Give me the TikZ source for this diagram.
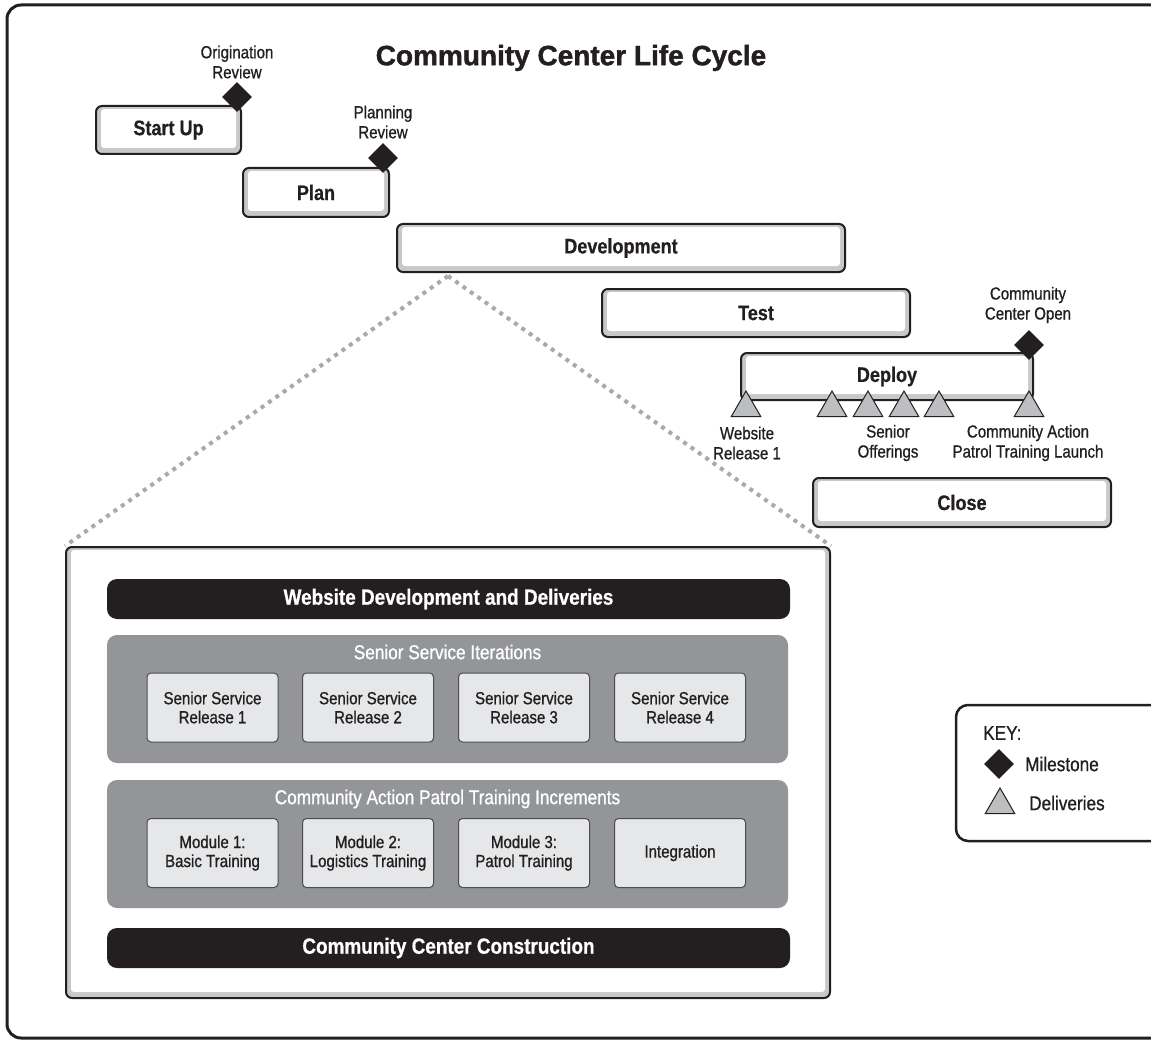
\documentclass[tikz,border=0pt]{standalone}
\usepackage{fontspec}
\setmainfont{Liberation Sans}[FakeStretch=0.86, UprightFeatures={FakeBold=0.9}, BoldFeatures={FakeBold=0.6}]
\newfontfamily\titlefont{Liberation Sans}[BoldFeatures={FakeBold=1.4}]
\usetikzlibrary{shapes,shapes.geometric,positioning}

\definecolor{ink}{HTML}{231F20}
\definecolor{rimgray}{HTML}{C7C8CA}
\definecolor{groupgray}{HTML}{939598}
\definecolor{cellgray}{HTML}{E6E7E8}
\definecolor{trigray}{HTML}{BCBEC0}
\definecolor{dotgray}{HTML}{A7A9AC}

\tikzset{
  phase/.style={draw=ink, line width=2pt, fill=rimgray, rounded corners=6pt, inner sep=0pt,
    text=ink, font=\bfseries\fontsize{21}{24}\selectfont,
    path picture={\fill[white, rounded corners=3pt]
      ([shift={(5pt,-3pt)}]path picture bounding box.north west) rectangle
      ([shift={(-5pt,6pt)}]path picture bounding box.south east);}},
  milestone/.style={diamond, fill=ink, minimum width=30pt, minimum height=30pt, inner sep=0pt},
  delivery/.style={regular polygon, regular polygon sides=3, minimum size=34pt, inner sep=0pt,
    draw=ink, line width=1pt, fill=trigray},
  label/.style={align=center, text=ink, inner sep=0pt, font=\fontsize{17.5}{20}\selectfont},
  band/.style={fill=ink, rounded corners=10pt, minimum width=683pt, minimum height=40pt,
    text=white, font=\bfseries\fontsize{22}{24}\selectfont},
  group/.style={fill=groupgray, rounded corners=10pt, minimum width=681pt, minimum height=128pt},
  grouptitle/.style={text=white, inner sep=0pt, font=\fontsize{20}{22}\selectfont},
  cell/.style={draw=ink!80, line width=1pt, fill=cellgray, rounded corners=4pt,
    minimum width=131pt, minimum height=69pt, align=center, text=ink,
    font=\fontsize{17.5}{19}\selectfont},
  keytext/.style={text=ink, anchor=west, inner sep=0pt, font=\fontsize{20}{22}\selectfont},
  zoomline/.style={dotgray, line width=4pt, dash pattern=on 4pt off 5pt}
}

\begin{document}
\begin{tikzpicture}[x=1pt, y=-1pt]
    \useasboundingbox (0,0) rectangle (1151,1043);
    \clip (0,0) rectangle (1151,1043);

    % outer frame
    \draw[ink, line width=3pt, rounded corners=14pt] (7,5) rectangle (1170,1038);

    \node[text=ink, font=\titlefont\bfseries\fontsize{28}{30}\selectfont] (title) at (571,58) {Community Center Life Cycle};

    % phases
    \node[phase, minimum width=145pt, minimum height=48pt] (startup) at (168.5,130) {Start Up};
    \node[phase, minimum width=146pt, minimum height=49pt] (plan) at (316,192.5) {Plan};
    \node[phase, minimum width=448pt, minimum height=48pt] (devel) at (621,248) {Development};
    \node[phase, minimum width=308pt, minimum height=48pt] (test) at (756,313) {Test};
    \node[phase, minimum width=292pt, minimum height=47pt] (deploy) at (887,376.5) {Deploy};
    \node[phase, minimum width=298pt, minimum height=49pt] (close) at (962,502.5) {Close};

    % milestones
    \node[milestone] (origin) at (237,97) {};
    \node[label] (originlbl) at (237,62) {Origination\\Review};
    \node[milestone] (planrev) at (383,158) {};
    \node[label] (planrevlbl) at (383,122) {Planning\\Review};
    \node[milestone] (ccopen) at (1029,345) {};
    \node[label] (ccopenlbl) at (1028,305) {Community\\Center Open};

    % deliveries
    \node[delivery] (web1) at (746,408) {};
    \node[delivery] (senior1) at (832,408) {};
    \node[delivery] (senior2) at (868,408) {};
    \node[delivery] (senior3) at (904,408) {};
    \node[delivery] (senior4) at (939,408) {};
    \node[delivery] (patrol) at (1029,408) {};
    \node[label] (weblbl) at (747,443) {Website\\Release 1};
    \node[label] (seniorlbl) at (888,443) {Senior\\Offerings};
    \node[label] (patrollbl) at (1028,443) {Community Action\\Patrol Training Launch};

    % development detail
    \node[phase, minimum width=764pt, minimum height=451pt] (detail) at (448,772.5) {};
    \coordinate (devfoot) at (448,276);
    \draw[zoomline] (devfoot) -- (detail.north west);
    \draw[zoomline] (devfoot) -- (detail.north east);

    \node[band] (website) at (448.5,599) {Website Development and Deliveries};

    \node[group] (seniorgrp) at (447.5,699) {};
    \node[grouptitle] (seniortitle) at (447.5,652) {Senior Service Iterations};
    \node[cell] (ss1) at (212.5,707.5) {Senior Service\\Release 1};
    \node[cell] (ss2) at (368,707.5) {Senior Service\\Release 2};
    \node[cell] (ss3) at (524,707.5) {Senior Service\\Release 3};
    \node[cell] (ss4) at (680,707.5) {Senior Service\\Release 4};

    \node[group] (patrolgrp) at (447.5,844) {};
    \node[grouptitle] (patroltitle) at (447.5,799) {Community Action Patrol Training Increments};
    \node[cell] (mod1) at (212.5,853) {Module 1:\\Basic Training};
    \node[cell] (mod2) at (368,853) {Module 2:\\Logistics Training};
    \node[cell] (mod3) at (524,853) {Module 3:\\Patrol Training};
    \node[cell] (integ) at (680,853) {Integration};

    \node[band] (construct) at (448.5,948) {Community Center Construction};

    % key
    \node[draw=ink, line width=2.5pt, rounded corners=12pt, minimum width=220pt, minimum height=136pt] (key) at (1066,773) {};
    \node[keytext] (keytitle) at (983,733) {KEY:};
    \node[milestone] (keyms) at (999,764) {};
    \node[keytext] (keymslbl) at (1025,764) {Milestone};
    \node[delivery] (keydl) at (1000,805) {};
    \node[keytext] (keydllbl) at (1029,803) {Deliveries};
\end{tikzpicture}
\end{document}
